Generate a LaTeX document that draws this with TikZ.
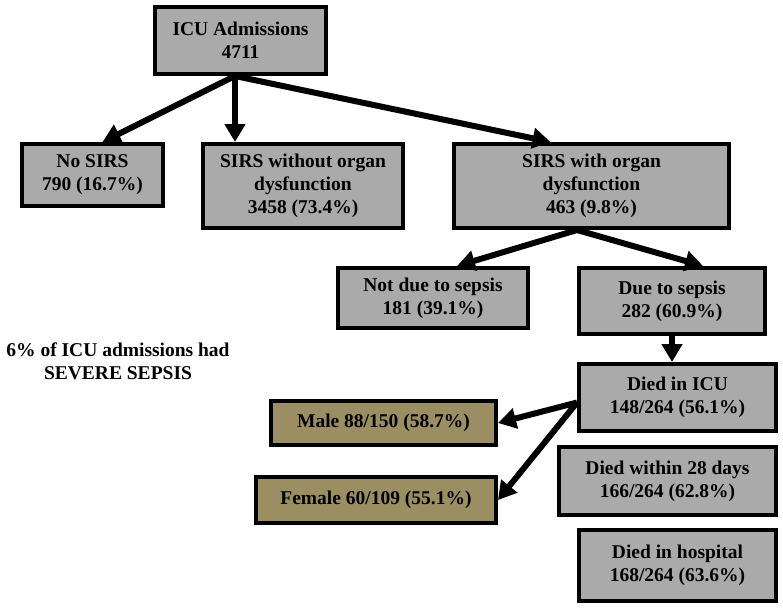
\documentclass[tikz,border=0pt]{standalone}
\usepackage{fontspec}
\setmainfont{Liberation Serif}
\usepackage{tikz}
\usetikzlibrary{arrows.meta}

\definecolor{boxgray}{RGB}{170,170,171}
\definecolor{boxolive}{RGB}{154,142,98}

\begin{document}
\begin{tikzpicture}[x=1pt,y=-1pt,
    font=\fontsize{19.5}{23}\selectfont\bfseries,
    box/.style={draw=black, line width=4pt, fill=boxgray, align=center, inner sep=2pt},
    sexbox/.style={box, fill=boxolive},
    flow/.style={line width=6pt, -{Triangle[length=18pt,width=20pt]}}]
	\useasboundingbox (0,0) rectangle (783,608);

            % first split
            \node[box, minimum width=171, minimum height=67] (icu) at (240.5,40.5) {ICU Admissions\\4711};
            \node[box, minimum width=141, minimum height=62] (nosirs) at (92.5,175) {No SIRS\\790 (16.7\%)};
            \node[box, minimum width=200, minimum height=84] (sirsno) at (303,186) {SIRS without organ\\dysfunction\\3458 (73.4\%)};
            \node[box, minimum width=275, minimum height=84] (sirsorg) at (591.5,186) {SIRS with organ\\dysfunction\\463 (9.8\%)};

            % sepsis or not
            \node[box, minimum width=190, minimum height=60] (notdue) at (433,298) {Not due to sepsis\\181 (39.1\%)};
            \node[box, minimum width=186, minimum height=66] (due) at (672,301) {Due to sepsis\\282 (60.9\%)};

            % outcomes
            \node[box, minimum width=197, minimum height=67] (dicu) at (677.5,397.5) {Died in ICU\\148/264 (56.1\%)};
            \node[box, minimum width=217, minimum height=68] (d28) at (667.5,481) {Died within 28 days\\166/264 (62.8\%)};
            \node[box, minimum width=197, minimum height=71] (dhosp) at (677.5,565.5) {Died in hospital\\168/264 (63.6\%)};

            \node[sexbox, minimum width=225, minimum height=44] (male) at (383.5,423) {Male 88/150 (58.7\%)};
            \node[sexbox, minimum width=240, minimum height=46] (female) at (376,500) {Female 60/109 (55.1\%)};

            \node[align=center] (note) at (118,361) {6\% of ICU admissions had\\SEVERE SEPSIS};

            \coordinate (fork) at (235,76);
            \coordinate (split) at (577,230);

            \draw[flow] (fork) -- ([xshift=10]nosirs.north);
            \draw[flow] (fork) -- (fork |- sirsno.north);
            \draw[flow] (fork) -- ([xshift=-41]sirsorg.north);

            \draw[flow] (split) -- ([xshift=24]notdue.north);
            \draw[flow] (split) -- ([xshift=31]due.north);

            \draw[flow] (due.south) -- (due.south |- dicu.north);

            \draw[flow] ([yshift=-5]dicu.west) -- (male.east);
            \draw[flow] ([yshift=-5]dicu.west) -- (female.east);

        \end{tikzpicture}
\end{document}
